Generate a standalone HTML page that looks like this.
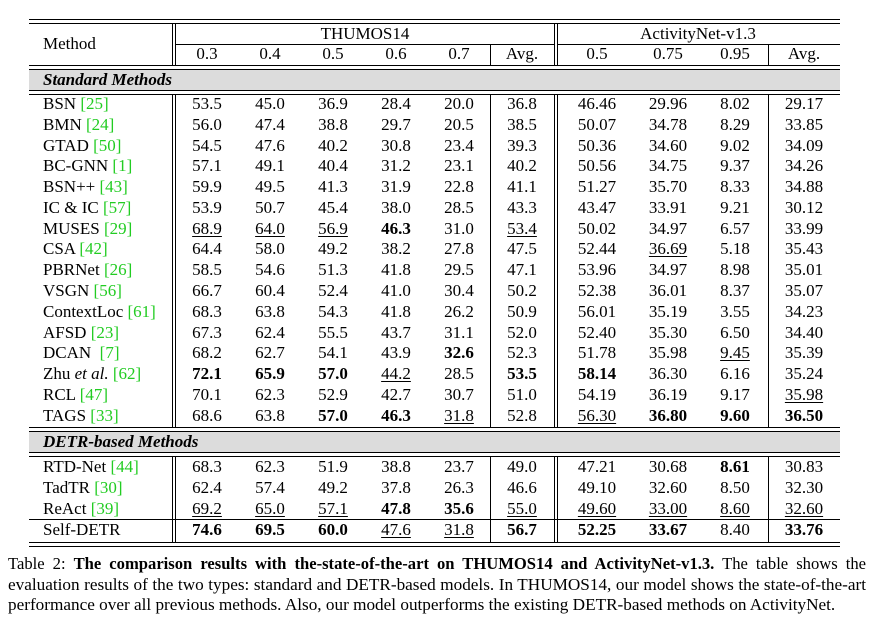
<!DOCTYPE html>
<html><head><meta charset="utf-8"><style>
body{margin:0;width:874px;height:621px;background:#fff;position:relative;overflow:hidden;font-family:"Liberation Serif",serif;color:#000}
svg{position:absolute;left:0;top:0}
.r{position:absolute;left:0;width:874px;height:20.77px;line-height:20.77px;font-size:17px}
.r span{position:absolute;top:0;width:70px;margin-left:-35px;text-align:center;white-space:nowrap}
.r span.m{left:43px;margin-left:0;width:auto;text-align:left}
.c1{left:207px}.c2{left:270px}.c3{left:333px}.c4{left:396px}.c5{left:459px}.c6{left:522px}.c7{left:597px}.c8{left:668px}.c9{left:735px}.c10{left:804px}
g{color:#22cc22}
u{text-decoration:underline;text-underline-offset:2px;text-decoration-thickness:1px}
.band{position:absolute;left:43px;font-size:17px;font-weight:bold;font-style:italic;line-height:21px}
.cap{position:absolute;left:8px;width:858px;font-size:17.2px;line-height:20px;white-space:nowrap}
.j{text-align:justify;text-align-last:justify;white-space:normal;height:20px;overflow:visible}
</style></head><body>
<svg width="874" height="621" shape-rendering="crispEdges">
<rect x="29" y="69" width="811" height="21" fill="#dcdcdc"/>
<rect x="29" y="431" width="811" height="21" fill="#dcdcdc"/>
<g stroke="#000" stroke-width="1">
<line x1="29" x2="840" y1="19.5" y2="19.5"/><line x1="29" x2="840" y1="23.5" y2="23.5"/>
<line x1="29" x2="840" y1="65.5" y2="65.5"/><line x1="29" x2="840" y1="69.5" y2="69.5"/>
<line x1="29" x2="840" y1="90.5" y2="90.5"/><line x1="29" x2="840" y1="94.5" y2="94.5"/>
<line x1="29" x2="840" y1="427.5" y2="427.5"/><line x1="29" x2="840" y1="431.5" y2="431.5"/>
<line x1="29" x2="840" y1="452.5" y2="452.5"/><line x1="29" x2="840" y1="456.5" y2="456.5"/>
<line x1="29" x2="840" y1="519.5" y2="519.5"/>
<line x1="29" x2="840" y1="542.5" y2="542.5"/><line x1="29" x2="840" y1="546.5" y2="546.5"/>
<line x1="175" x2="554" y1="44.5" y2="44.5"/><line x1="557" x2="840" y1="44.5" y2="44.5"/>
<path d="M172.5 23V65M175.5 23V65M554.5 23V65M557.5 23V65M490.5 44V65M768.5 44V65
M172.5 94V427M175.5 94V427M554.5 94V427M557.5 94V427M490.5 94V427M768.5 94V427
M172.5 457V542M175.5 457V542M554.5 457V542M557.5 457V542M490.5 457V542M768.5 457V542" fill="none"/>
</g></svg>
<div class="r" style="top:23px;height:21px;line-height:21px"><span style="left:365px;width:200px;margin-left:-100px">THUMOS14</span><span style="left:698px;width:200px;margin-left:-100px">ActivityNet-v1.3</span></div>
<div class="r" style="top:34px"><span class="m">Method</span></div>
<div class="r" style="top:44px"><span class="c1">0.3</span><span class="c2">0.4</span><span class="c3">0.5</span><span class="c4">0.6</span><span class="c5">0.7</span><span class="c6">Avg.</span><span class="c7">0.5</span><span class="c8">0.75</span><span class="c9">0.95</span><span class="c10">Avg.</span></div>
<div class="band" style="top:69px">Standard Methods</div>
<div class="band" style="top:431px">DETR-based Methods</div>

<div class="r" style="top:94px"><span class="m">BSN <g>[25]</g></span><span class="c1">53.5</span><span class="c2">45.0</span><span class="c3">36.9</span><span class="c4">28.4</span><span class="c5">20.0</span><span class="c6">36.8</span><span class="c7">46.46</span><span class="c8">29.96</span><span class="c9">8.02</span><span class="c10">29.17</span></div>
<div class="r" style="top:114.8px"><span class="m">BMN <g>[24]</g></span><span class="c1">56.0</span><span class="c2">47.4</span><span class="c3">38.8</span><span class="c4">29.7</span><span class="c5">20.5</span><span class="c6">38.5</span><span class="c7">50.07</span><span class="c8">34.78</span><span class="c9">8.29</span><span class="c10">33.85</span></div>
<div class="r" style="top:135.5px"><span class="m">GTAD <g>[50]</g></span><span class="c1">54.5</span><span class="c2">47.6</span><span class="c3">40.2</span><span class="c4">30.8</span><span class="c5">23.4</span><span class="c6">39.3</span><span class="c7">50.36</span><span class="c8">34.60</span><span class="c9">9.02</span><span class="c10">34.09</span></div>
<div class="r" style="top:156.3px"><span class="m">BC-GNN <g>[1]</g></span><span class="c1">57.1</span><span class="c2">49.1</span><span class="c3">40.4</span><span class="c4">31.2</span><span class="c5">23.1</span><span class="c6">40.2</span><span class="c7">50.56</span><span class="c8">34.75</span><span class="c9">9.37</span><span class="c10">34.26</span></div>
<div class="r" style="top:177.1px"><span class="m">BSN++ <g>[43]</g></span><span class="c1">59.9</span><span class="c2">49.5</span><span class="c3">41.3</span><span class="c4">31.9</span><span class="c5">22.8</span><span class="c6">41.1</span><span class="c7">51.27</span><span class="c8">35.70</span><span class="c9">8.33</span><span class="c10">34.88</span></div>
<div class="r" style="top:197.9px"><span class="m">IC &amp; IC <g>[57]</g></span><span class="c1">53.9</span><span class="c2">50.7</span><span class="c3">45.4</span><span class="c4">38.0</span><span class="c5">28.5</span><span class="c6">43.3</span><span class="c7">43.47</span><span class="c8">33.91</span><span class="c9">9.21</span><span class="c10">30.12</span></div>
<div class="r" style="top:218.6px"><span class="m">MUSES <g>[29]</g></span><span class="c1"><u>68.9</u></span><span class="c2"><u>64.0</u></span><span class="c3"><u>56.9</u></span><span class="c4"><b>46.3</b></span><span class="c5">31.0</span><span class="c6"><u>53.4</u></span><span class="c7">50.02</span><span class="c8">34.97</span><span class="c9">6.57</span><span class="c10">33.99</span></div>
<div class="r" style="top:239.4px"><span class="m">CSA <g>[42]</g></span><span class="c1">64.4</span><span class="c2">58.0</span><span class="c3">49.2</span><span class="c4">38.2</span><span class="c5">27.8</span><span class="c6">47.5</span><span class="c7">52.44</span><span class="c8"><u>36.69</u></span><span class="c9">5.18</span><span class="c10">35.43</span></div>
<div class="r" style="top:260.2px"><span class="m">PBRNet <g>[26]</g></span><span class="c1">58.5</span><span class="c2">54.6</span><span class="c3">51.3</span><span class="c4">41.8</span><span class="c5">29.5</span><span class="c6">47.1</span><span class="c7">53.96</span><span class="c8">34.97</span><span class="c9">8.98</span><span class="c10">35.01</span></div>
<div class="r" style="top:280.9px"><span class="m">VSGN <g>[56]</g></span><span class="c1">66.7</span><span class="c2">60.4</span><span class="c3">52.4</span><span class="c4">41.0</span><span class="c5">30.4</span><span class="c6">50.2</span><span class="c7">52.38</span><span class="c8">36.01</span><span class="c9">8.37</span><span class="c10">35.07</span></div>
<div class="r" style="top:301.7px"><span class="m">ContextLoc <g>[61]</g></span><span class="c1">68.3</span><span class="c2">63.8</span><span class="c3">54.3</span><span class="c4">41.8</span><span class="c5">26.2</span><span class="c6">50.9</span><span class="c7">56.01</span><span class="c8">35.19</span><span class="c9">3.55</span><span class="c10">34.23</span></div>
<div class="r" style="top:322.5px"><span class="m">AFSD <g>[23]</g></span><span class="c1">67.3</span><span class="c2">62.4</span><span class="c3">55.5</span><span class="c4">43.7</span><span class="c5">31.1</span><span class="c6">52.0</span><span class="c7">52.40</span><span class="c8">35.30</span><span class="c9">6.50</span><span class="c10">34.40</span></div>
<div class="r" style="top:343.2px"><span class="m">DCAN &nbsp;<g>[7]</g></span><span class="c1">68.2</span><span class="c2">62.7</span><span class="c3">54.1</span><span class="c4">43.9</span><span class="c5"><b>32.6</b></span><span class="c6">52.3</span><span class="c7">51.78</span><span class="c8">35.98</span><span class="c9"><u>9.45</u></span><span class="c10">35.39</span></div>
<div class="r" style="top:364px"><span class="m">Zhu <i>et al.</i> <g>[62]</g></span><span class="c1"><b>72.1</b></span><span class="c2"><b>65.9</b></span><span class="c3"><b>57.0</b></span><span class="c4"><u>44.2</u></span><span class="c5">28.5</span><span class="c6"><b>53.5</b></span><span class="c7"><b>58.14</b></span><span class="c8">36.30</span><span class="c9">6.16</span><span class="c10">35.24</span></div>
<div class="r" style="top:384.8px"><span class="m">RCL <g>[47]</g></span><span class="c1">70.1</span><span class="c2">62.3</span><span class="c3">52.9</span><span class="c4">42.7</span><span class="c5">30.7</span><span class="c6">51.0</span><span class="c7">54.19</span><span class="c8">36.19</span><span class="c9">9.17</span><span class="c10"><u>35.98</u></span></div>
<div class="r" style="top:405.5px"><span class="m">TAGS <g>[33]</g></span><span class="c1">68.6</span><span class="c2">63.8</span><span class="c3"><b>57.0</b></span><span class="c4"><b>46.3</b></span><span class="c5"><u>31.8</u></span><span class="c6">52.8</span><span class="c7"><u>56.30</u></span><span class="c8"><b>36.80</b></span><span class="c9"><b>9.60</b></span><span class="c10"><b>36.50</b></span></div>

<div class="r" style="top:457px"><span class="m">RTD-Net <g>[44]</g></span><span class="c1">68.3</span><span class="c2">62.3</span><span class="c3">51.9</span><span class="c4">38.8</span><span class="c5">23.7</span><span class="c6">49.0</span><span class="c7">47.21</span><span class="c8">30.68</span><span class="c9"><b>8.61</b></span><span class="c10">30.83</span></div>
<div class="r" style="top:477.8px"><span class="m">TadTR <g>[30]</g></span><span class="c1">62.4</span><span class="c2">57.4</span><span class="c3">49.2</span><span class="c4">37.8</span><span class="c5">26.3</span><span class="c6">46.6</span><span class="c7">49.10</span><span class="c8">32.60</span><span class="c9">8.50</span><span class="c10">32.30</span></div>
<div class="r" style="top:498.5px"><span class="m">ReAct <g>[39]</g></span><span class="c1"><u>69.2</u></span><span class="c2"><u>65.0</u></span><span class="c3"><u>57.1</u></span><span class="c4"><b>47.8</b></span><span class="c5"><b>35.6</b></span><span class="c6"><u>55.0</u></span><span class="c7"><u>49.60</u></span><span class="c8"><u>33.00</u></span><span class="c9"><u>8.60</u></span><span class="c10"><u>32.60</u></span></div>
<div class="r" style="top:519.5px"><span class="m">Self-DETR</span><span class="c1"><b>74.6</b></span><span class="c2"><b>69.5</b></span><span class="c3"><b>60.0</b></span><span class="c4"><u>47.6</u></span><span class="c5"><u>31.8</u></span><span class="c6"><b>56.7</b></span><span class="c7"><b>52.25</b></span><span class="c8"><b>33.67</b></span><span class="c9">8.40</span><span class="c10"><b>33.76</b></span></div>

<div class="cap j" style="top:554px;font-size:16.6px">Table 2: <b>The comparison results with the-state-of-the-art on THUMOS14 and ActivityNet-v1.3.</b> The table shows the</div>
<div class="cap j" style="top:575px">evaluation results of the two types: standard and DETR-based models. In THUMOS14, our model shows the state-of-the-art</div>
<div class="cap" style="top:595px">performance over all previous methods. Also, our model outperforms the existing DETR-based methods on ActivityNet.</div>
</body></html>
